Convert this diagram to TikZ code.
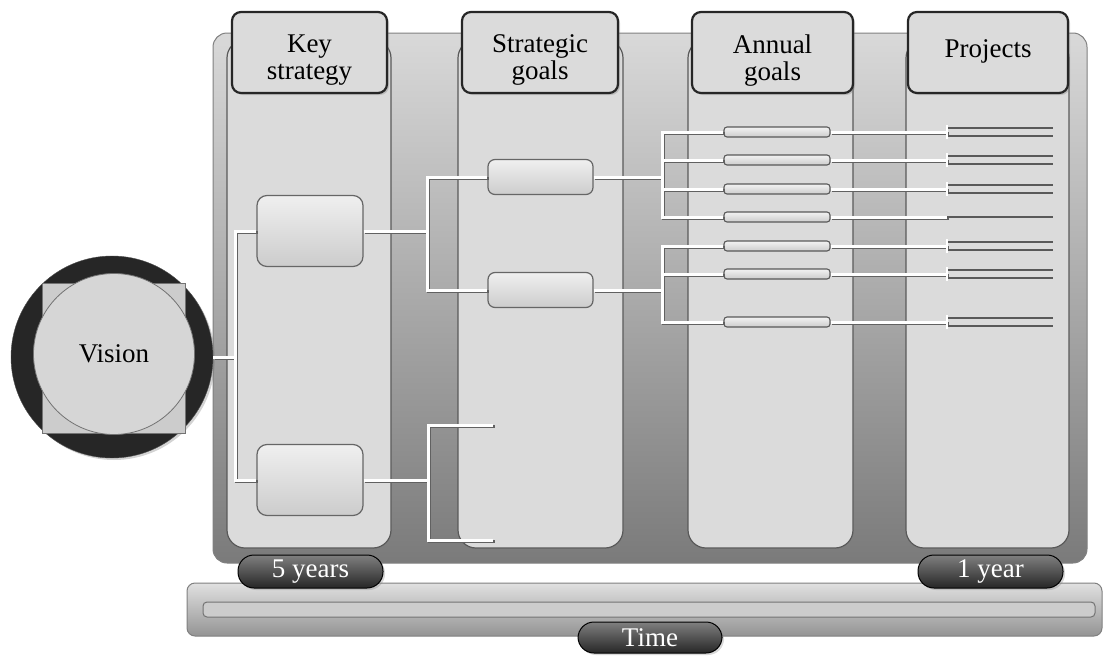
\documentclass[tikz,border=0pt]{standalone}
\usepackage{fontspec}
\setmainfont{Liberation Serif}
\usetikzlibrary{shadows}
\definecolor{colfill}{gray}{0.86}
\definecolor{hdrfill}{gray}{0.86}
\definecolor{visfill}{gray}{0.84}
\definecolor{sqfill}{gray}{0.80}
\begin{document}
\begin{tikzpicture}[x=1pt,y=-1pt,
  conn/.style={draw=white, line width=3pt, preaction={draw=black!62, line width=3pt, transform canvas={shift={(1.8pt,-1.8pt)}}}},
  col/.style={fill=colfill, draw=black!65, line width=1.2pt, rounded corners=18pt},
  hdr/.style={draw=black!85, line width=2.2pt, fill=hdrfill, rounded corners=9pt, minimum height=81pt, inner sep=0pt, drop shadow={opacity=0.35, shadow xshift=2pt, shadow yshift=-2pt}},
  hdrtext/.style={align=center, inner sep=0pt, font=\fontsize{27}{27}\selectfont},
  ksbox/.style={draw=black!60, line width=1.2pt, top color=gray!12, bottom color=gray!40, rounded corners=10pt, minimum width=106pt, minimum height=71pt},
  sgbox/.style={draw=black!60, line width=1.2pt, top color=gray!12, bottom color=gray!40, rounded corners=7pt, minimum width=105pt, minimum height=35pt},
  agbox/.style={draw=black!65, line width=1.1pt, top color=gray!10, bottom color=gray!40, rounded corners=3pt, minimum width=106pt, minimum height=10pt, inner sep=0pt},
  pill/.style={draw=black, line width=1pt, top color=black!50, bottom color=black!85, rounded corners=16pt, minimum height=33pt, text=white, font=\fontsize{27}{27}\selectfont, inner sep=0pt, drop shadow={opacity=0.3, shadow xshift=2pt, shadow yshift=-2pt}},
  projline/.style={draw=black!65, line width=1.6pt},
  tick/.style={draw=white, line width=2.8pt}
]
\useasboundingbox (0,0) rectangle (1104,656);

% background panel
\draw[black!50, line width=1pt, rounded corners=14pt, top color=black!15, bottom color=black!52] (213,33) rectangle (1087,563);

% columns
\draw[col] (227,40) rectangle (391,548);
\draw[col] (458,40) rectangle (623,548);
\draw[col] (688,40) rectangle (853,548);
\draw[col] (906,40) rectangle (1069,548);

% headers
\node[hdr, minimum width=155pt] (hks) at (309.5,52.5) {};
\node[hdr, minimum width=156pt] (hsg) at (540,52.5) {};
\node[hdr, minimum width=161pt] (hag) at (772.5,52.5) {};
\node[hdr, minimum width=160pt] (hpr) at (988,52.5) {};
\node[hdrtext] (tks) at (309.5,60.5) {Key\\strategy};
\node[hdrtext] (tsg) at (540,60) {Strategic\\goals};
\node[hdrtext] (tag) at (772.5,60.5) {Annual\\goals};
\node[hdrtext] (tpr) at (988,51) {Projects};

% time bar
\draw[black!50, line width=1pt, rounded corners=8pt, top color=black!12, bottom color=black!42] (187,583) rectangle (1102,636);
\draw[black!55, line width=1pt, rounded corners=4pt, fill=black!20] (203,602) rectangle (1095,617);

% boxes
\node[ksbox] (ks1) at (310,231) {};
\node[ksbox] (ks2) at (310,480) {};
\node[sgbox] (sg1) at (540.5,177) {};
\node[sgbox] (sg2) at (540.5,290) {};
\foreach \i/\r in {1/132,2/160,3/189,4/217,5/246,6/274,7/322}{
  \node[agbox] (ag\i) at (777,\r) {};
}

% vision
\node[circle, minimum size=202pt, fill=black!85, draw=black!70, drop shadow={opacity=0.35, shadow xshift=2pt, shadow yshift=-2pt}] (ring) at (112,357) {};
\draw[black!55, line width=0.8pt, fill=sqfill] (42,283) rectangle (185,433);
\node[circle, minimum size=161pt, fill=visfill, draw=black!55, line width=0.8pt, font=\fontsize{27}{27}\selectfont] (vision) at (114,354) {Vision};

% free ends
\coordinate (e1) at (493,425);
\coordinate (e2) at (493,540);

% connectors
\draw[conn] (ring.east) -- (235,357);
\draw[conn] (ks1.west) -- (235,231) -- (235,480) -- (ks2.west);
\draw[conn] (ks1.east) -- (427,231);
\draw[conn] (sg1.west) -- (427,177) -- (427,290) -- (sg2.west);
\draw[conn] (ks2.east) -- (428,480);
\draw[conn] (e1) -- (428,425) -- (428,540) -- (e2);
\draw[conn] (sg1.east) -- (662,177);
\draw[conn] (ag1.west) -- (662,132) -- (662,217) -- (ag4.west);
\draw[conn] (ag2.west) -- (662,160);
\draw[conn] (ag3.west) -- (662,189);
\draw[conn] (sg2.east) -- (662,290);
\draw[conn] (ag5.west) -- (662,246) -- (662,322) -- (ag7.west);
\draw[conn] (ag6.west) -- (662,274);

% annual goals to projects
\foreach \i/\r in {1/132,2/160,3/189,5/246,6/274,7/322}{
  \coordinate (p\i) at (947,\r);
  \draw[conn] (ag\i.east) -- (p\i);
  \draw[projline] (947,\r-4) -- (1053,\r-4);
  \draw[projline] (947,\r+4) -- (1053,\r+4);
  \draw[tick] (947,\r-7) -- (947,\r+7);
}
\coordinate (p4) at (947,217);
\draw[conn] (ag4.east) -- (p4);
\draw[projline] (p4) -- (1053,217);

% pills
\node[pill, minimum width=145pt] (y5) at (310.5,571.5) {5 years};
\node[pill, minimum width=145pt] (y1) at (990.5,571.5) {1 year};
\node[pill, minimum width=144pt, minimum height=31pt] (time) at (650,637.5) {Time};
\end{tikzpicture}
\end{document}
